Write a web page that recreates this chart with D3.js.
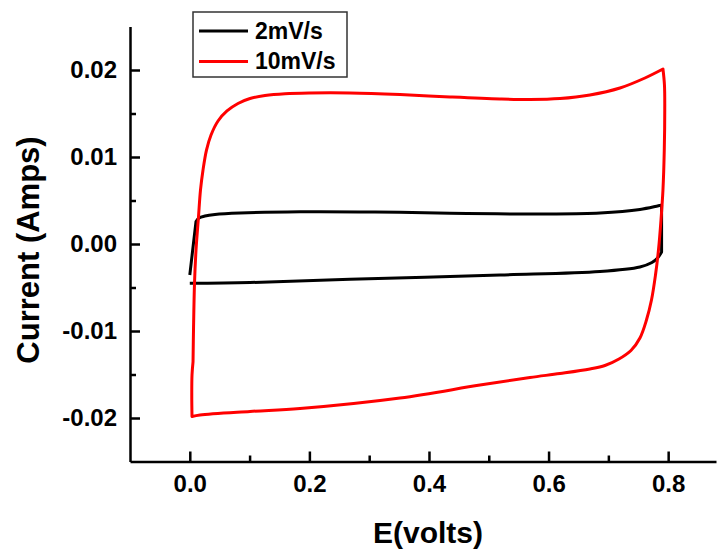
<!DOCTYPE html>
<html>
<head>
<meta charset="utf-8">
<script src="https://cdn.jsdelivr.net/npm/d3@7"></script>
<style>
  html, body { margin: 0; padding: 0; background: #fff; }
  svg { display: block; }
  text { font-family: "Liberation Sans", Arial, sans-serif; font-weight: bold; fill: #000; }
</style>
</head>
<body>
<svg id="chart" width="717" height="550"></svg>
<script>
// ---- data ----
const seriesNames = ["2mV/s", "10mV/s"];
const seriesColors = ["#000000", "#ff0000"];

// 2 mV/s (black)
const blackE = [0.000, 0.0104, 0.0154, 0.0254, 0.0421, 0.0839, 0.1843, 0.3097, 0.4351, 0.6023, 0.6860, 0.7528, 0.7890,
                0.7890, 0.7823, 0.7729, 0.7528, 0.6860, 0.5187, 0.2679, 0.1007, 0.000];
const blackI = [-0.00356, 0.00259, 0.00299, 0.00322, 0.00339, 0.00356, 0.00371, 0.00368, 0.00353, 0.00345, 0.00356, 0.00397, 0.00448,
                -0.00092, -0.00161, -0.00213, -0.00264, -0.00316, -0.00356, -0.00406, -0.00443, -0.00452];
const blackCorners = [1, 12, 13];

// 10 mV/s (red)
const redE = [0.0054, 0.0062, 0.0079, 0.0104, 0.0145, 0.0179, 0.0221, 0.0279, 0.0355, 0.0472, 0.0622, 0.0806, 0.1007, 0.1258, 0.1592, 0.2010,
              0.2679, 0.3515, 0.4351, 0.5187, 0.5689, 0.6191, 0.6692, 0.7194, 0.7612, 0.7913,
              0.7938, 0.7943, 0.7935, 0.7913, 0.7880, 0.7838, 0.7788, 0.7721, 0.7637, 0.7528, 0.7378, 0.7177, 0.6943, 0.6692,
              0.6191, 0.5689, 0.4853, 0.3515, 0.1843, 0.1007, 0.0171, 0.0037, 0.0033, 0.0037, 0.0054];
const redI = [-0.01356, -0.00989, -0.00448, -0.00069, 0.00310, 0.00621, 0.00851, 0.01080, 0.01253, 0.01414, 0.01529, 0.01615, 0.01672, 0.01707, 0.01728, 0.01736,
              0.01736, 0.01718, 0.01690, 0.01667, 0.01661, 0.01672, 0.01713, 0.01793, 0.01908, 0.02011,
              0.01828, 0.01540, 0.01080, 0.00621, 0.00276, -0.00069, -0.00356, -0.00644, -0.00874, -0.01080, -0.01224, -0.01322, -0.01397, -0.01437,
              -0.01489, -0.01534, -0.01621, -0.01770, -0.01891, -0.01925, -0.01966, -0.01983, -0.01736, -0.01506, -0.01356];
const redCorners = [25, 47];

const xMajorTicks = [0.0, 0.2, 0.4, 0.6, 0.8];
const xMinorTicks = [0.1, 0.3, 0.5, 0.7];
const yMajorTicks = [-0.02, -0.01, 0.00, 0.01, 0.02];
const yMinorTicks = [-0.015, -0.005, 0.005, 0.015];

// ---- layout ----
const svg = d3.select("#chart");
const x = d3.scaleLinear().domain([-0.1, 0.88]).range([130, 716]);
const y = d3.scaleLinear().domain([-0.025, 0.025]).range([461.5, 26.5]);

const axisColor = "#000";
const fontFam = "Liberation Sans, Arial, sans-serif";
const hyphen = f => d => f(d).replace("\u2212", "-");

// minor ticks
svg.append("g").attr("transform", `translate(${x(-0.1)},0)`)
  .call(d3.axisLeft(y).tickValues(yMinorTicks).tickSize(-6).tickSizeOuter(0).tickFormat(""))
  .call(g => g.select(".domain").remove())
  .call(g => g.selectAll("line").attr("stroke", axisColor).attr("stroke-width", 2.5));
svg.append("g").attr("transform", `translate(0,${y(-0.025)})`)
  .call(d3.axisBottom(x).tickValues(xMinorTicks).tickSize(-6).tickSizeOuter(0).tickFormat(""))
  .call(g => g.select(".domain").remove())
  .call(g => g.selectAll("line").attr("stroke", axisColor).attr("stroke-width", 2.5));

// major axes
const yAxis = svg.append("g").attr("transform", `translate(${x(-0.1)},0)`)
  .call(d3.axisLeft(y).tickValues(yMajorTicks).tickSize(-10).tickSizeOuter(0).tickPadding(13)
    .tickFormat(hyphen(d3.format(".2f"))));
yAxis.select(".domain").attr("stroke", axisColor).attr("stroke-width", 2.5);
yAxis.selectAll("line").attr("stroke", axisColor).attr("stroke-width", 2.5);
yAxis.selectAll("text").attr("font-size", 24).attr("font-family", fontFam).attr("font-weight", "bold").attr("fill", "#000");

const xAxis = svg.append("g").attr("transform", `translate(0,${y(-0.025)})`)
  .call(d3.axisBottom(x).tickValues(xMajorTicks).tickSize(-10).tickSizeOuter(0).tickPadding(13)
    .tickFormat(hyphen(d3.format(".1f"))));
xAxis.select(".domain").attr("stroke", axisColor).attr("stroke-width", 2.5);
xAxis.selectAll("line").attr("stroke", axisColor).attr("stroke-width", 2.5);
xAxis.selectAll("text").attr("font-size", 24).attr("font-family", fontFam).attr("font-weight", "bold").attr("fill", "#000");

// axis titles
svg.append("text").attr("x", 428).attr("y", 543).attr("text-anchor", "middle")
  .attr("font-size", 30).text("E(volts)");
svg.append("text").attr("transform", "translate(39,250) rotate(-90)").attr("text-anchor", "middle")
  .attr("font-size", 31).text("Current (Amps)");

// curves: smooth segments joined at sharp corners
const line = d3.line().x(d => x(d[0])).y(d => y(d[1])).curve(d3.curveCatmullRom.alpha(0.5));
function buildPath(E, I, corners) {
  const pts = E.map((e, i) => [e, I[i]]);
  const idx = [0, ...corners, pts.length - 1];
  let d = "";
  for (let k = 0; k < idx.length - 1; k++) {
    const seg = line(pts.slice(idx[k], idx[k + 1] + 1));
    d += d ? "L" + seg.slice(1) : seg;
  }
  return d;
}

svg.append("path").attr("d", buildPath(blackE, blackI, blackCorners))
  .attr("fill", "none").attr("stroke", seriesColors[0]).attr("stroke-width", 3).attr("stroke-linejoin", "round");
svg.append("path").attr("d", buildPath(redE, redI, redCorners))
  .attr("fill", "none").attr("stroke", seriesColors[1]).attr("stroke-width", 3).attr("stroke-linejoin", "round");

// legend
const legend = svg.append("g");
legend.append("rect").attr("x", 193).attr("y", 12).attr("width", 154).attr("height", 65)
  .attr("fill", "#fff").attr("stroke", "#333").attr("stroke-width", 1.5);
seriesNames.forEach((name, i) => {
  const cy = 31 + i * 30.5;
  legend.append("line").attr("x1", 199).attr("x2", 248).attr("y1", cy).attr("y2", cy)
    .attr("stroke", seriesColors[i]).attr("stroke-width", 3);
  legend.append("text").attr("x", 255).attr("y", cy + 7.8).attr("font-size", 23).text(name);
});
</script>
</body>
</html>
